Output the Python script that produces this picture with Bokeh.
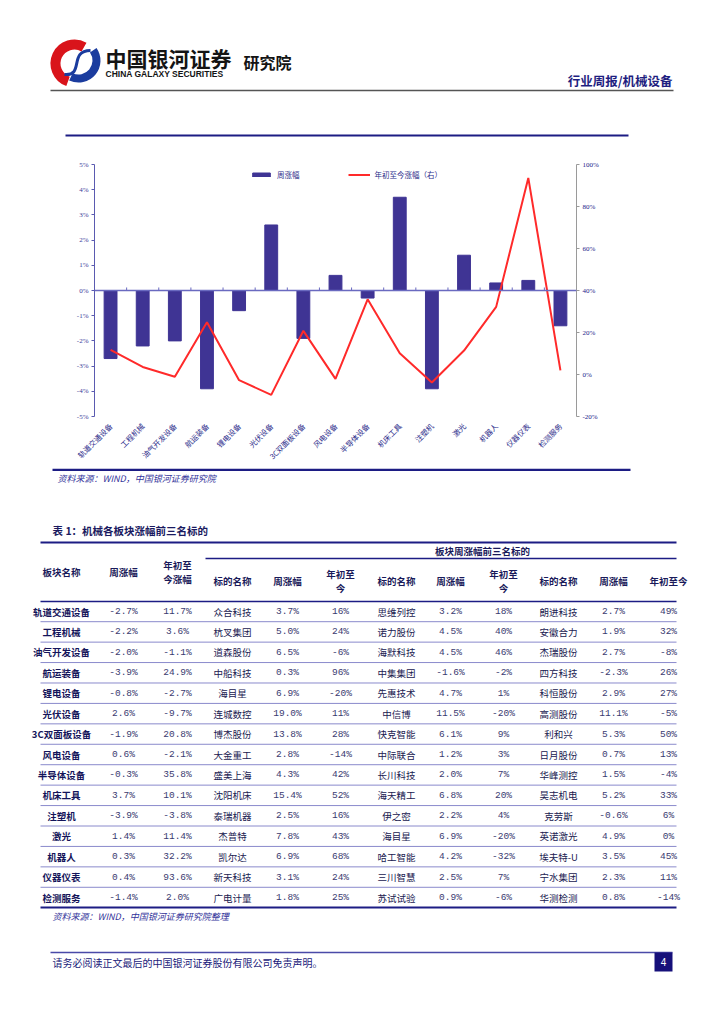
import math
from bokeh.plotting import figure
from bokeh.models import (Range1d, FactorRange, LinearAxis, FixedTicker, PrintfTickFormatter,
                          Legend, LegendItem, Span)
from bokeh.layouts import column
from bokeh.embed import file_html
from bokeh.resources import INLINE
from bokeh.core.properties import value

# ---------------- data ----------------
categories = ["轨道交通设备", "工程机械", "油气开发设备", "航运装备", "锂电设备", "光伏设备",
              "3C双面板设备", "风电设备", "半导体设备", "机床工具", "注塑机", "激光",
              "机器人", "仪器仪表", "检测服务"]
weekly = [-2.7, -2.2, -2.0, -3.9, -0.8, 2.6, -1.9, 0.6, -0.3, 3.7, -3.9, 1.4, 0.3, 0.4, -1.4]
ytd = [11.7, 3.6, -1.1, 24.9, -2.7, -9.7, 20.8, -2.1, 35.8, 10.1, -3.8, 11.4, 32.2, 93.6, 2.0]
left_ticks = [-5, -4, -3, -2, -1, 0, 1, 2, 3, 4, 5]
right_ticks = [-20, 0, 20, 40, 60, 80, 100]

top1_name = ["众合科技", "杭叉集团", "道森股份", "中船科技", "海目星", "连城数控", "博杰股份", "大金重工",
             "盛美上海", "沈阳机床", "泰瑞机器", "杰普特", "凯尔达", "新天科技", "广电计量"]
top1_week = [3.7, 5.0, 6.5, 0.3, 6.9, 19.0, 13.8, 2.8, 4.3, 15.4, 2.5, 7.8, 6.9, 3.1, 1.8]
top1_ytd = [16, 24, -6, 96, -20, 11, 28, -14, 42, 52, 16, 43, 68, 24, 25]
top2_name = ["思维列控", "诺力股份", "海默科技", "中集集团", "先惠技术", "中信博", "快克智能", "中际联合",
             "长川科技", "海天精工", "伊之密", "海目星", "哈工智能", "三川智慧", "苏试试验"]
top2_week = [3.2, 4.5, 4.5, -1.6, 4.7, 11.5, 6.1, 1.2, 2.0, 6.8, 2.2, 6.9, 4.2, 2.5, 0.9]
top2_ytd = [18, 40, 46, -2, 1, -20, 9, 3, 7, 20, 4, -20, -32, 7, -6]
top3_name = ["朗进科技", "安徽合力", "杰瑞股份", "四方科技", "科恒股份", "高测股份", "利和兴", "日月股份",
             "华峰测控", "昊志机电", "克劳斯", "英诺激光", "埃夫特-U", "宁水集团", "华测检测"]
top3_week = [2.7, 1.9, 2.7, -2.3, 2.9, 11.1, 5.3, 0.7, 1.5, 5.2, -0.6, 4.9, 3.5, 2.3, 0.8]
top3_ytd = [49, 32, -8, 26, 27, -5, 50, 13, -4, 33, 6, 0, 45, 11, -14]

# ---------------- styles ----------------
W = 724
CJK = "Noto Sans CJK SC"
NAVY = "#1c1c84"
BAR = "#3f3494"
RED = "#ff2a2a"
TXT = "#2a2a8a"


def no_align(f):
    try:
        f.frame_align = False
    except Exception:
        pass


def deco(h):
    f = figure(width=W, height=h, x_range=Range1d(0, W), y_range=Range1d(h, 0),
               output_backend="svg", toolbar_location=None, min_border=0,
               outline_line_color=None, background_fill_color="white")
    f.axis.visible = False
    f.grid.visible = False
    no_align(f)
    return f


def txt(f, xs, ys, texts, size, color, align="left", font=CJK, style="normal"):
    f.text(x=xs, y=ys, text=texts, text_font=value(font), text_font_size=size,
           text_color=color, text_align=align, text_baseline="middle", text_font_style=style)


# ---------------- header ----------------
H1 = 138
hd = deco(H1)
# logo
hd.arc(x=[74], y=[63], radius=19, start_angle=math.radians(60), end_angle=math.radians(250),
       line_color="#d9141b", line_width=10)
hd.arc(x=[78], y=[60], radius=18, start_angle=math.radians(-115), end_angle=math.radians(35),
       line_color="#1b3c9e", line_width=8)
hd.bezier(x0=[64], y0=[74], x1=[90], y1=[50], cx0=[84], cy0=[76],
          cx1=[68], cy1=[50], line_color="#1b3c9e", line_width=3)
txt(hd, [105], [57], ["中国银河证券"], "21px", "#141414", style="bold")
txt(hd, [105], [73], ["CHINA GALAXY SECURITIES"], "8.5px", "#141414", font="Liberation Sans",
    style="bold")
txt(hd, [243], [61], ["研究院"], "16px", "#141414", style="bold")
txt(hd, [672], [80], ["行业周报/机械设备"], "12.5px", "#1e1e80", align="right", style="bold")
hd.line(x=[50, 673], y=[90, 90], line_color="#555555", line_width=1.3)
hd.line(x=[65, 628], y=[135, 135], line_color=NAVY, line_width=2)

# ---------------- chart ----------------
H2 = 330
p = figure(width=W, height=H2, x_range=FactorRange(*categories, range_padding=0),
           y_range=Range1d(-5, 5), output_backend="svg", toolbar_location=None,
           min_border_left=94, min_border_right=148, min_border_top=26, min_border_bottom=50,
           outline_line_color=None)
no_align(p)
p.grid.visible = False
p.extra_y_ranges = {"ytd": Range1d(-20, 100)}

bars = p.vbar(x=categories, top=weekly, width=0.4, fill_color=BAR, line_color=BAR)
ln = p.line(x=categories, y=ytd, y_range_name="ytd", line_color=RED, line_width=2)

p.add_layout(Span(location=0, dimension="width", line_color="#6a6ac0", line_width=1.5))
bounds = list(range(1, len(categories)))
p.segment(x0=bounds, y0=[0] * len(bounds), x1=bounds, y1=[0.12] * len(bounds),
          line_color="#6a6ac0", line_width=1)

ya = p.yaxis[0]
ya.ticker = FixedTicker(ticks=left_ticks)
ya.formatter = PrintfTickFormatter(format="%d%%")
ya.axis_line_color = "#5a5ab0"
ya.major_tick_line_color = "#5a5ab0"
ya.major_tick_out = 3
ya.major_tick_in = 0
ya.minor_tick_line_color = None
ya.major_label_text_font = "Liberation Serif"
ya.major_label_text_font_size = "7px"
ya.major_label_text_color = "#3a3a9a"
ya.major_label_standoff = 3

ra = LinearAxis(y_range_name="ytd", ticker=FixedTicker(ticks=right_ticks),
                formatter=PrintfTickFormatter(format="%d%%"))
ra.axis_line_color = "#9a9a9a"
ra.major_tick_line_color = "#9a9a9a"
ra.major_tick_out = 3
ra.major_tick_in = 0
ra.minor_tick_line_color = None
ra.major_label_text_font = "Liberation Serif"
ra.major_label_text_font_size = "7px"
ra.major_label_text_color = "#22228a"
ra.major_label_standoff = 3
p.add_layout(ra, "right")

xa = p.xaxis[0]
xa.axis_line_color = None
xa.major_tick_line_color = None
xa.major_label_orientation = math.pi / 4
xa.major_label_text_font = CJK
xa.major_label_text_font_size = "7.5px"
xa.major_label_text_color = TXT
xa.major_label_standoff = 2

legend = Legend(items=[LegendItem(label="周涨幅", renderers=[bars]),
                       LegendItem(label="年初至今涨幅（右）", renderers=[ln])],
                orientation="horizontal", location=(156, 236), padding=0, margin=0,
                spacing=48, glyph_width=22, glyph_height=5, label_height=8,
                label_standoff=5, border_line_color=None, background_fill_alpha=0,
                label_text_font=CJK, label_text_font_size="7.5px", label_text_color=TXT)
p.add_layout(legend)

# ---------------- bottom (source + table + footer) ----------------
T3 = 468
H3 = 1024 - T3
bt = deco(H3)
Y = lambda y: y - T3
bt.line(x=[52, 630], y=[Y(469.3), Y(469.3)], line_color=NAVY, line_width=2.5)
txt(bt, [57], [Y(478)], ["资料来源：WIND，中国银河证券研究院"], "9px", "#33339a", style="italic")
txt(bt, [52], [Y(530)], ["表 1：机械各板块涨幅前三名标的"], "10.5px", "#1a1a60", style="bold")

# table rules
bt.line(x=[40, 676], y=[Y(542), Y(542)], line_color=NAVY, line_width=2)
bt.line(x=[205, 676], y=[Y(558), Y(558)], line_color=NAVY, line_width=1.5)
bt.line(x=[40, 676], y=[Y(601), Y(601)], line_color=NAVY, line_width=1.5)
row_y = [611 + 20.43 * i for i in range(len(categories))]
sep = [row_y[i] + 10.2 for i in range(len(categories) - 1)]
bt.multi_line(xs=[[40, 676]] * len(sep), ys=[[Y(s), Y(s)] for s in sep],
              line_color="#8a8acc", line_width=1)
bt.line(x=[40, 676], y=[Y(907), Y(907)], line_color=NAVY, line_width=2)

HC = "#1a1a5a"
txt(bt, [61, 123, 177, 177], [Y(571), Y(571), Y(564), Y(578)],
    ["板块名称", "周涨幅", "年初至", "今涨幅"], "9.5px", HC, align="center", style="bold")
txt(bt, [482], [Y(550)], ["板块周涨幅前三名标的"], "9.5px", HC, align="center", style="bold")
name_x = [232, 396, 558]
week_x = [287, 450, 613]
ytd_x = [340, 503, 668]
txt(bt, name_x + week_x, [Y(580)] * 6, ["标的名称"] * 3 + ["周涨幅"] * 3,
    "9.5px", HC, align="center", style="bold")
txt(bt, [ytd_x[0], ytd_x[0], ytd_x[1], ytd_x[1], ytd_x[2]],
    [Y(573), Y(587), Y(573), Y(587), Y(580)], ["年初至", "今", "年初至", "今", "年初至今"],
    "9.5px", HC, align="center", style="bold")

ry = [Y(v) for v in row_y]
n = len(categories)
txt(bt, [61] * n, ry, categories, "9.5px", "#14145a", align="center", style="bold")
NUM = "#3a3a70"
MONO = "Liberation Mono"
txt(bt, [123] * n, ry, ["%.1f%%" % v for v in weekly], "9.5px", NUM, align="center", font=MONO)
txt(bt, [177] * n, ry, ["%.1f%%" % v for v in ytd], "9.5px", NUM, align="center", font=MONO)
groups = [(top1_name, top1_week, top1_ytd), (top2_name, top2_week, top2_ytd),
          (top3_name, top3_week, top3_ytd)]
for g, (nm, wk, yd) in enumerate(groups):
    txt(bt, [name_x[g]] * n, ry, nm, "9.5px", "#202050", align="center")
    txt(bt, [week_x[g]] * n, ry, ["%.1f%%" % v for v in wk], "9.5px", NUM, align="center", font=MONO)
    txt(bt, [ytd_x[g]] * n, ry, ["%d%%" % v for v in yd], "9.5px", NUM, align="center", font=MONO)

txt(bt, [52], [Y(916)], ["资料来源：WIND，中国银河证券研究院整理"], "9px", "#33339a", style="italic")

# footer
bt.line(x=[50, 672], y=[Y(952), Y(952)], line_color="#4a4aa8", line_width=1.5)
txt(bt, [52], [Y(962)], ["请务必阅读正文最后的中国银河证券股份有限公司免责声明。"], "10px", "#1a1a7a")
bt.quad(left=[654], right=[672], top=[Y(952)], bottom=[Y(971)], fill_color="#16107a",
        line_color=None)
txt(bt, [663], [Y(961.5)], ["4"], "10px", "white", align="center", font="Liberation Sans")

page = column(hd, p, bt, spacing=0)
open("out.html", "w").write(file_html(page, INLINE))
